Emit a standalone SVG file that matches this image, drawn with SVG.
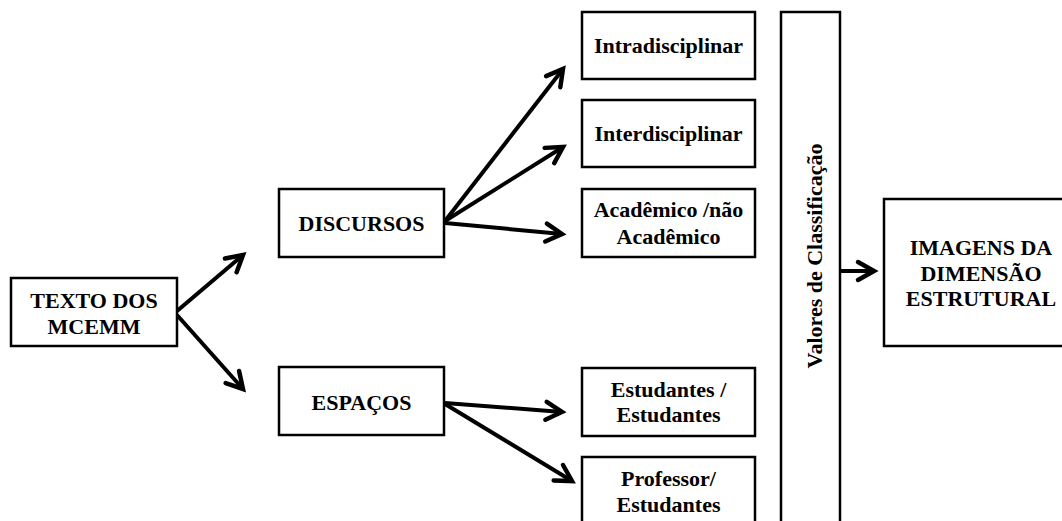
<svg xmlns="http://www.w3.org/2000/svg" width="1062" height="521" viewBox="0 0 1062 521">
<style>
.box{fill:#fff;stroke:#000;stroke-width:2.5}
.t{font-family:"Liberation Serif","Times New Roman",serif;font-weight:bold;font-size:22px;fill:#000;text-anchor:middle}
.c{fill:none;stroke:#000;stroke-width:4;marker-end:url(#ah)}
</style>
<defs>
<marker id="ah" markerUnits="userSpaceOnUse" markerWidth="40" markerHeight="40" refX="0" refY="0" orient="auto" style="overflow:visible">
<path d="M-16,-9 L0,0 L-16,9" fill="none" stroke="#000" stroke-width="4.5" stroke-linecap="round" stroke-linejoin="miter"/>
</marker>
</defs>
<rect width="1062" height="521" fill="#fff"/>
<g id="connectors">
<line class="c" x1="177" y1="311" x2="243" y2="255"/>
<line class="c" x1="177" y1="315" x2="243" y2="389"/>
<line class="c" x1="445" y1="221" x2="563" y2="69"/>
<line class="c" x1="445" y1="221" x2="563" y2="147"/>
<line class="c" x1="445" y1="223" x2="562" y2="234"/>
<line class="c" x1="445" y1="403" x2="562" y2="412"/>
<line class="c" x1="445" y1="404" x2="572" y2="481"/>
<line class="c" x1="840" y1="271" x2="874" y2="271"/>
</g>
<g id="texto">
<rect class="box" x="11" y="278" width="166" height="68"/>
<text class="t" x="94" y="308">TEXTO DOS</text>
<text class="t" x="94" y="334">MCEMM</text>
</g>
<g id="discursos">
<rect class="box" x="279" y="189" width="165" height="68"/>
<text class="t" x="361.5" y="231">DISCURSOS</text>
</g>
<g id="espacos">
<rect class="box" x="279" y="367" width="165" height="68"/>
<text class="t" x="361.5" y="410">ESPAÇOS</text>
</g>
<g id="intra">
<rect class="box" x="582" y="12" width="173" height="67"/>
<text class="t" x="668.5" y="53">Intradisciplinar</text>
</g>
<g id="inter">
<rect class="box" x="582" y="100" width="173" height="67"/>
<text class="t" x="668.5" y="141">Interdisciplinar</text>
</g>
<g id="academico">
<rect class="box" x="582" y="189" width="173" height="68"/>
<text class="t" x="668.5" y="217">Acadêmico /não</text>
<text class="t" x="668.5" y="244">Acadêmico</text>
</g>
<g id="estudantes">
<rect class="box" x="582" y="368" width="173" height="68"/>
<text class="t" x="668.5" y="397">Estudantes /</text>
<text class="t" x="668.5" y="422">Estudantes</text>
</g>
<g id="professor">
<rect class="box" x="582" y="457" width="173" height="70"/>
<text class="t" x="668.5" y="486">Professor/</text>
<text class="t" x="668.5" y="512">Estudantes</text>
</g>
<g id="valores">
<rect class="box" x="781" y="12" width="59" height="520"/>
<text class="t" transform="translate(822,256) rotate(-90)" x="0" y="0">Valores de Classificação</text>
</g>
<g id="imagens">
<rect class="box" x="884" y="199" width="195" height="147"/>
<text class="t" x="981" y="255">IMAGENS DA</text>
<text class="t" x="981" y="281">DIMENSÃO</text>
<text class="t" x="981" y="306">ESTRUTURAL</text>
</g>
</svg>
